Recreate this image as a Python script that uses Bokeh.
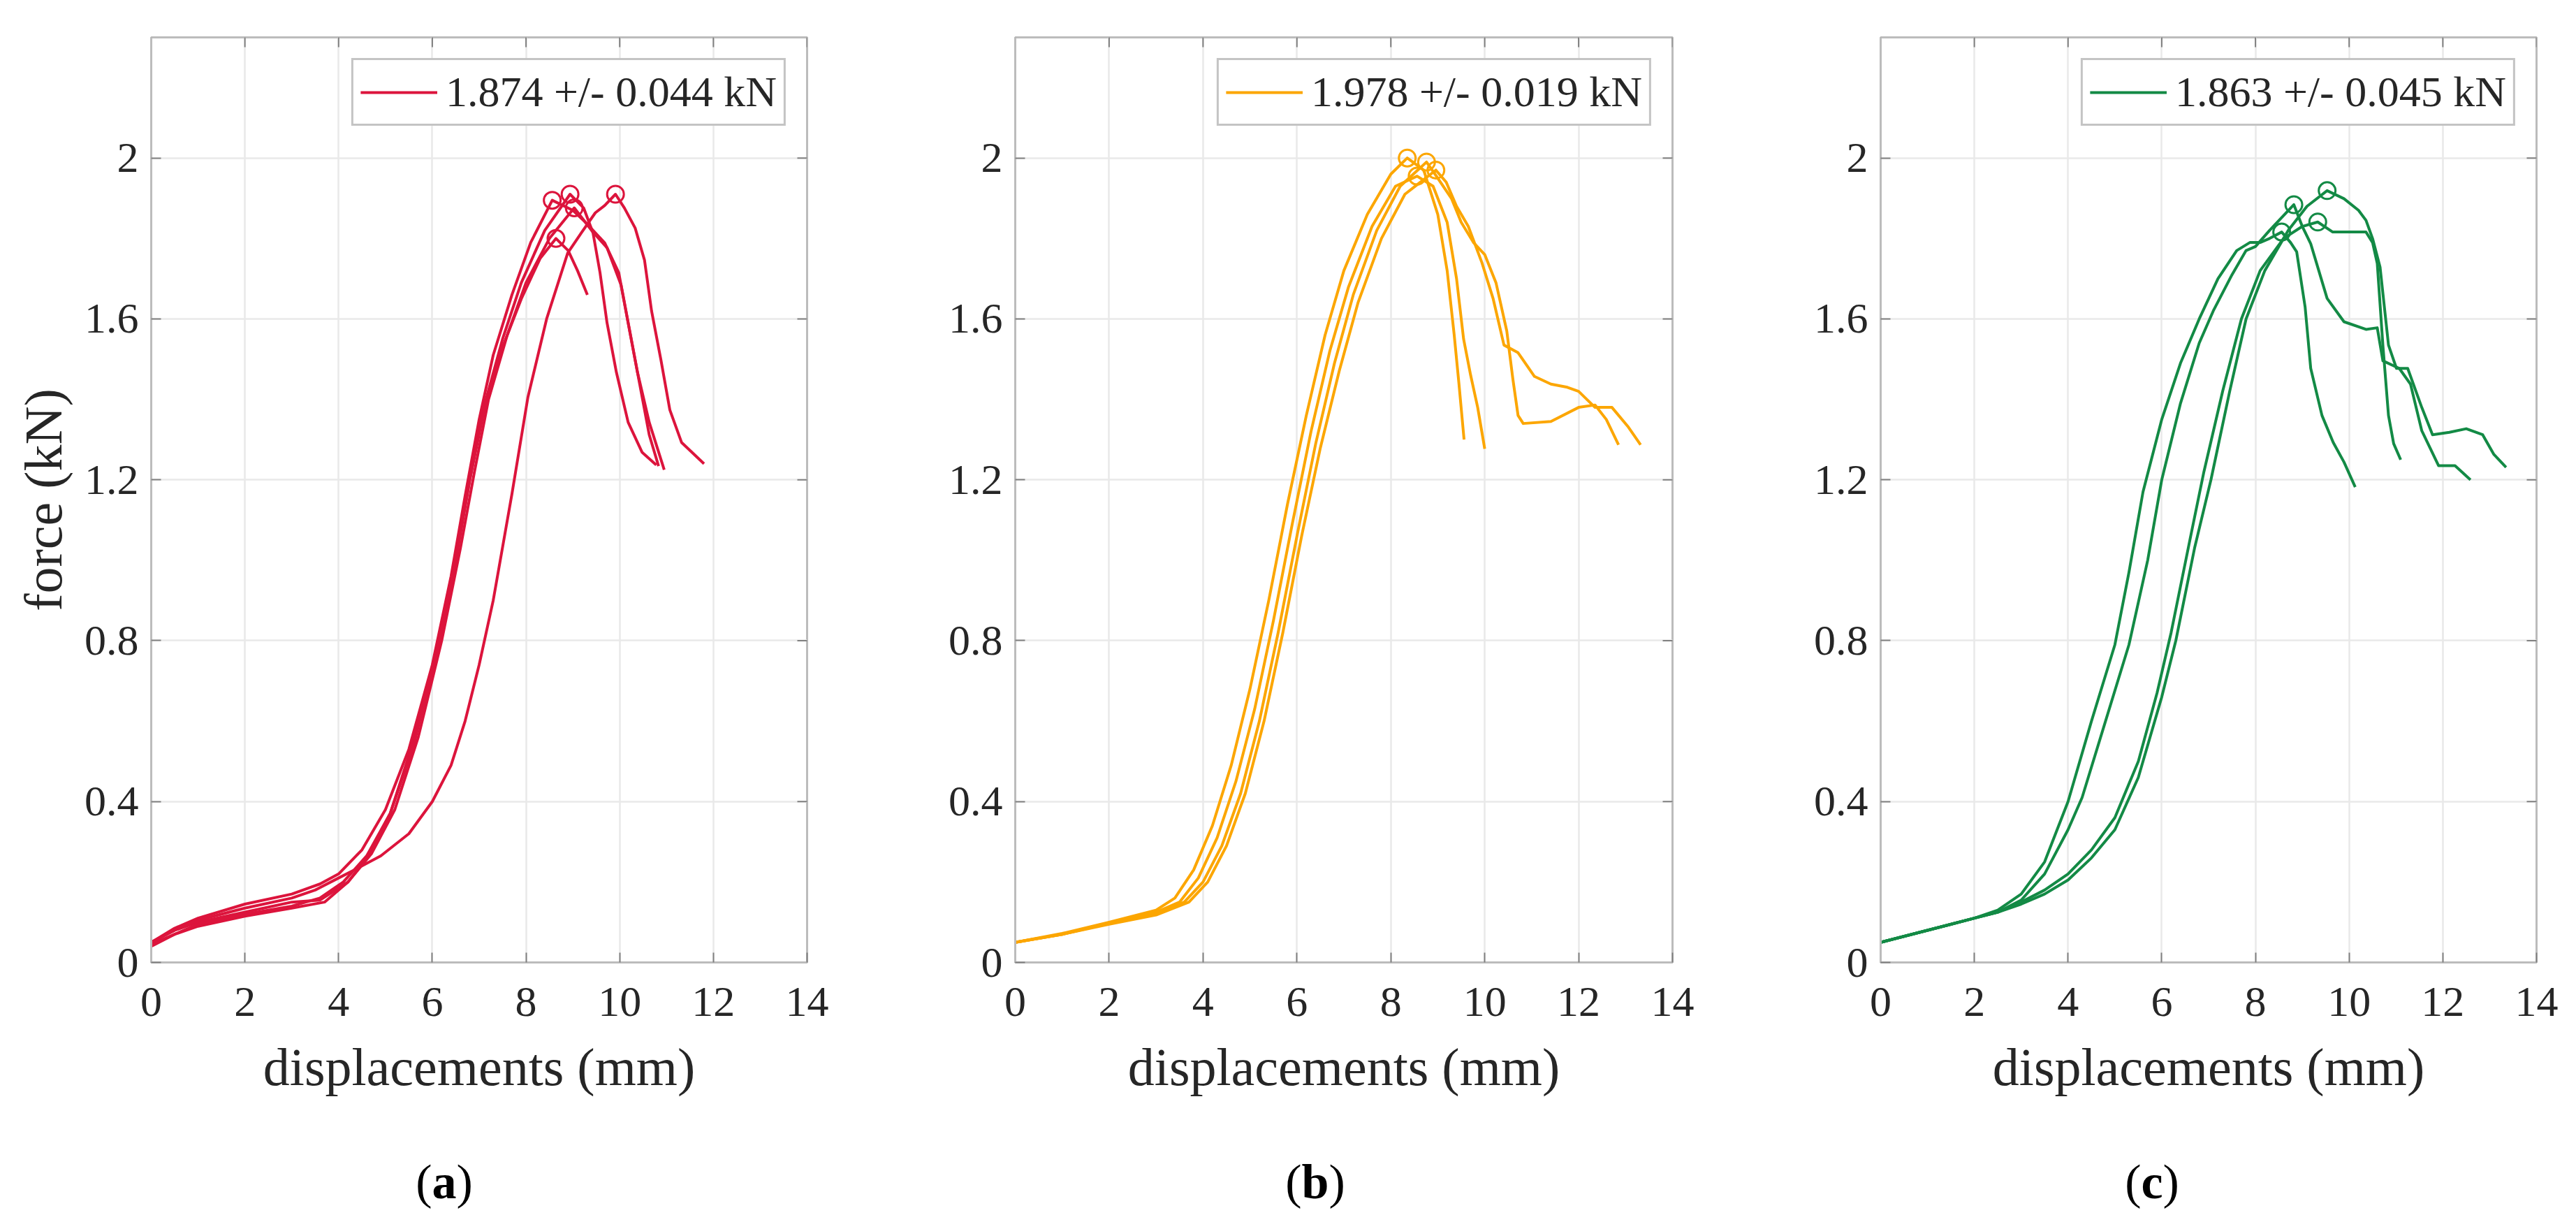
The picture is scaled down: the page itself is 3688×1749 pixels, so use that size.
import math
from bokeh.plotting import figure
from bokeh.layouts import row, column
from bokeh.models import Range1d, FixedTicker, Legend, LegendItem, Div
from bokeh.embed import file_html
from bokeh.resources import INLINE

# ---------------- data ----------------
x_ticks = [0, 2, 4, 6, 8, 10, 12, 14]
x_tick_labels = ["0", "2", "4", "6", "8", "10", "12", "14"]
y_ticks = [0, 0.4, 0.8, 1.2, 1.6, 2.0]
y_tick_labels = ["0", "0.4", "0.8", "1.2", "1.6", "2"]
x_max = 14
y_max = 2.3

x_label = "displacements (mm)"
y_label = "force (kN)"

# panel (a)
a1_x = [0, 0.5, 1, 2, 3, 3.6, 4, 4.5, 5, 5.5, 6, 6.4, 6.7, 7, 7.3, 7.7, 8.1, 8.56, 9.0, 9.28, 9.68, 9.98, 10.18, 10.38, 10.63, 10.95]
a1_y = [.05, .085, .11, .145, .17, .195, .22, .28, .38, .53, .74, .96, 1.16, 1.35, 1.51, 1.66, 1.79, 1.895, 1.87, 1.839, 1.789, 1.715, 1.59, 1.467, 1.343, 1.225]
a2_x = [0, 0.5, 1, 2, 3, 3.7, 4.2, 4.6, 5.1, 5.6, 6.1, 6.5, 6.8, 7.1, 7.5, 7.9, 8.4, 8.94, 9.23, 9.43, 9.58, 9.73, 9.93, 10.18, 10.48, 10.78]
a2_y = [.045, .07, .09, .115, .135, .15, .2, .26, .37, .55, .78, 1.0, 1.2, 1.38, 1.55, 1.69, 1.82, 1.91, 1.876, 1.814, 1.715, 1.59, 1.467, 1.343, 1.268, 1.237]
a3_x = [0, 0.5, 1, 2, 3, 3.6, 4.2, 4.7, 5.2, 5.7, 6.2, 6.6, 6.9, 7.2, 7.6, 8.0, 8.5, 9.03, 9.4, 9.73, 10.03, 10.23, 10.43, 10.63, 10.83]
a3_y = [.05, .08, .1, .125, .15, .155, .2, .27, .38, .56, .8, 1.03, 1.22, 1.4, 1.56, 1.69, 1.8, 1.876, 1.82, 1.777, 1.684, 1.56, 1.436, 1.312, 1.234]
a4_x = [0, 0.5, 1, 2, 3, 3.6, 4.1, 4.6, 5.1, 5.6, 6.1, 6.5, 6.8, 7.1, 7.5, 7.9, 8.3, 8.64, 8.9, 9.1, 9.31]
a4_y = [.04, .07, .095, .12, .14, .16, .2, .265, .37, .54, .77, 1.0, 1.2, 1.37, 1.53, 1.65, 1.75, 1.80, 1.77, 1.72, 1.66]
a5_x = [0, 0.5, 1, 2, 3, 3.5, 4, 4.5, 4.9, 5.5, 6.0, 6.4, 6.7, 7.0, 7.3, 7.7, 8.04, 8.44, 8.89, 9.18, 9.48, 9.68, 9.91, 10.1, 10.33, 10.53, 10.68, 10.88, 11.07, 11.32, 11.8]
a5_y = [.05, .08, .105, .135, .16, .18, .21, .24, .265, .32, .40, .49, .6, .74, .9, 1.165, 1.405, 1.6, 1.764, 1.814, 1.864, 1.882, 1.91, 1.876, 1.826, 1.746, 1.62, 1.498, 1.374, 1.293, 1.24]

# panel (b)
b1_x = [0, 1, 2, 3, 3.4, 3.8, 4.2, 4.6, 5.0, 5.4, 5.8, 6.2, 6.6, 7.0, 7.5, 8.0, 8.35, 8.7, 9.0, 9.2, 9.35, 9.45, 9.56]
b1_y = [.05, .072, .1, .13, .16, .23, .34, .49, .68, .9, 1.14, 1.36, 1.56, 1.72, 1.86, 1.96, 2.0, 1.97, 1.86, 1.72, 1.56, 1.44, 1.30]
b2_x = [0, 1, 2, 3, 3.5, 3.9, 4.3, 4.7, 5.1, 5.5, 5.9, 6.3, 6.7, 7.1, 7.6, 8.1, 8.56, 8.9, 9.2, 9.4, 9.55, 9.7, 9.85, 10.0]
b2_y = [.05, .07, .098, .125, .15, .21, .31, .45, .63, .85, 1.09, 1.32, 1.52, 1.68, 1.83, 1.93, 1.955, 1.93, 1.84, 1.70, 1.55, 1.46, 1.38, 1.277]
b3_x = [0, 1, 2, 3, 3.6, 4.0, 4.4, 4.8, 5.2, 5.6, 6.0, 6.4, 6.8, 7.2, 7.7, 8.2, 8.76, 9.0, 9.29, 9.5, 9.76, 10.0, 10.24, 10.47, 10.6, 10.71, 10.82, 11.41, 12.0, 12.35, 12.59, 12.85]
b3_y = [.05, .07, .097, .12, .15, .2, .29, .42, .6, .82, 1.06, 1.29, 1.49, 1.66, 1.82, 1.93, 1.99, 1.95, 1.90, 1.84, 1.79, 1.76, 1.69, 1.57, 1.45, 1.36, 1.34, 1.345, 1.38, 1.386, 1.35, 1.287]
b4_x = [0, 1, 2, 3, 3.7, 4.1, 4.5, 4.9, 5.3, 5.7, 6.1, 6.5, 6.9, 7.3, 7.8, 8.3, 8.96, 9.18, 9.4, 9.65, 9.94, 10.18, 10.41, 10.71, 11.06, 11.41, 11.76, 12.0, 12.35, 12.71, 13.06, 13.32]
b4_y = [.05, .07, .095, .118, .15, .2, .29, .42, .6, .82, 1.06, 1.28, 1.47, 1.64, 1.8, 1.91, 1.97, 1.94, 1.88, 1.83, 1.74, 1.65, 1.535, 1.516, 1.457, 1.438, 1.43, 1.42, 1.38, 1.38, 1.331, 1.287]

# panel (c)
c1_x = [0, 1, 2, 2.5, 3, 3.5, 4.0, 4.5, 5.0, 5.3, 5.6, 6.0, 6.4, 6.8, 7.2, 7.6, 7.88, 8.1, 8.3, 8.56, 8.75, 8.88, 9.06, 9.18, 9.42, 9.66, 9.89, 10.13]
c1_y = [.05, .08, .11, .13, .17, .25, .4, .6, .79, .97, 1.17, 1.35, 1.49, 1.6, 1.7, 1.77, 1.79, 1.79, 1.80, 1.816, 1.79, 1.767, 1.63, 1.477, 1.36, 1.293, 1.244, 1.182]
c2_x = [0, 1, 2, 2.5, 3, 3.5, 4.0, 4.3, 4.8, 5.3, 5.7, 6.0, 6.4, 6.8, 7.1, 7.5, 7.8, 8.0, 8.3, 8.82, 9.0, 9.18, 9.53, 9.89, 10.36, 10.6, 10.72, 11.07, 11.31, 11.55, 11.91, 12.26, 12.59]
c2_y = [.05, .08, .11, .125, .155, .22, .33, .41, .6, .79, 1.0, 1.2, 1.39, 1.54, 1.62, 1.71, 1.77, 1.78, 1.82, 1.884, 1.83, 1.787, 1.651, 1.593, 1.574, 1.578, 1.496, 1.477, 1.438, 1.322, 1.235, 1.235, 1.20]
c3_x = [0, 1, 2, 2.5, 3, 3.5, 4.0, 4.5, 5.0, 5.5, 5.9, 6.2, 6.6, 6.9, 7.3, 7.7, 8.1, 8.6, 9.0, 9.33, 9.65, 10.36, 10.5, 10.6, 10.72, 10.84, 10.95, 11.1]
c3_y = [.05, .08, .11, .125, .15, .18, .22, .28, .36, .5, .67, .82, 1.05, 1.22, 1.42, 1.6, 1.72, 1.8, 1.83, 1.841, 1.816, 1.816, 1.79, 1.738, 1.535, 1.36, 1.29, 1.25]
c4_x = [0, 1, 2, 2.5, 3, 3.5, 4.0, 4.5, 5.0, 5.5, 6.0, 6.3, 6.7, 7.05, 7.45, 7.8, 8.2, 8.7, 9.1, 9.53, 9.89, 10.2, 10.36, 10.5, 10.66, 10.84, 11.01, 11.25, 11.55, 11.78, 12.14, 12.5, 12.85, 13.09, 13.35]
c4_y = [.05, .08, .11, .125, .145, .17, .205, .26, .33, .46, .66, .8, 1.03, 1.2, 1.42, 1.6, 1.72, 1.82, 1.88, 1.919, 1.899, 1.87, 1.845, 1.8, 1.729, 1.535, 1.477, 1.477, 1.38, 1.312, 1.318, 1.327, 1.312, 1.263, 1.231]

legend_labels = ["1.874 +/- 0.044 kN", "1.978 +/- 0.019 kN", "1.863 +/- 0.045 kN"]
captions = ["a", "b", "c"]
colors = ["#DC143C", "#FCA600", "#138A45"]

panels = [
    [(a1_x, a1_y), (a2_x, a2_y), (a3_x, a3_y), (a4_x, a4_y), (a5_x, a5_y)],
    [(b1_x, b1_y), (b2_x, b2_y), (b3_x, b3_y), (b4_x, b4_y)],
    [(c1_x, c1_y), (c2_x, c2_y), (c3_x, c3_y), (c4_x, c4_y)],
]

# ---------------- styling ----------------
FONT = "Liberation Serif"
TEXT = "#262626"
BOX = "#bcbcbc"
TICK = "#808080"
TICK_FS = "62px"
LABEL_FS = "76px"
TICK_LEN = 14

# layout geometry (per panel): width, border left, border right, caption centre offset from frame left
geom = [
    (1304, 216, 149, 420),
    (1238, 149, 148, 430),
    (1130, 150, 41, 389),
]
FIG_HEIGHT = 1647
BORDER_TOP = 53
FRAME_H = 1324
CAP_HEIGHT = 90


def style_axis(ax, ticks, labels, standoff):
    ax.ticker = FixedTicker(ticks=ticks)
    ax.major_label_overrides = dict(zip(ticks, labels))
    ax.major_tick_in = TICK_LEN
    ax.major_tick_out = 0
    ax.minor_tick_in = 0
    ax.minor_tick_out = 0
    ax.major_tick_line_color = TICK
    ax.major_tick_line_width = 2
    ax.axis_line_color = BOX
    ax.axis_line_width = 3
    ax.major_label_text_font = FONT
    ax.major_label_text_color = TEXT
    ax.major_label_text_font_size = TICK_FS
    ax.major_label_standoff = standoff
    ax.axis_label_text_font = FONT
    ax.axis_label_text_font_size = LABEL_FS
    ax.axis_label_text_font_style = "normal"
    ax.axis_label_text_color = TEXT


cols = []
for i, curves in enumerate(panels):
    w, bl, br, cap_off = geom[i]
    p = figure(width=w, height=FIG_HEIGHT, output_backend="svg", toolbar_location=None,
               x_range=Range1d(0, x_max), y_range=Range1d(0, y_max),
               min_border_left=bl, min_border_right=br,
               min_border_top=BORDER_TOP, min_border_bottom=FIG_HEIGHT - BORDER_TOP - FRAME_H)
    p.background_fill_color = "white"
    p.border_fill_color = "white"
    p.outline_line_color = BOX
    p.outline_line_width = 3

    xax = p.xaxis[0]
    yax = p.yaxis[0]
    style_axis(xax, x_ticks, x_tick_labels, 36)
    style_axis(yax, y_ticks, y_tick_labels, 18)
    xax.axis_label = x_label
    xax.axis_label_standoff = 28
    if i == 0:
        yax.axis_label = y_label
        yax.axis_label_standoff = 14

    p.xgrid.ticker = FixedTicker(ticks=x_ticks)
    p.ygrid.ticker = FixedTicker(ticks=y_ticks)
    p.grid.grid_line_color = "#e9e9e9"
    p.grid.grid_line_width = 2.5

    # inward ticks on the top and right edges of the box (half of each dash is clipped by the frame)
    p.scatter(x_ticks, [y_max] * len(x_ticks), marker="dash", angle=math.pi / 2,
              size=2 * TICK_LEN, line_color=TICK, line_width=2)
    p.scatter([x_max] * len(y_ticks), y_ticks, marker="dash",
              size=2 * TICK_LEN, line_color=TICK, line_width=2)

    color = colors[i]
    renderers = []
    for (xs, ys) in curves:
        r = p.line(xs, ys, line_color=color, line_width=4, line_join="round")
        renderers.append(r)
    # peak markers (maximum of each curve)
    px, py = [], []
    for (xs, ys) in curves:
        k = ys.index(max(ys))
        px.append(xs[k])
        py.append(ys[k])
    p.scatter(px, py, marker="circle", size=24, fill_color=None,
              line_color=color, line_width=3)

    legend = Legend(items=[LegendItem(label=legend_labels[i], renderers=[renderers[0]])],
                    location="top_right", margin=30, padding=10, spacing=0,
                    glyph_width=110, glyph_height=60, label_height=60,
                    label_standoff=12,
                    label_text_font=FONT, label_text_font_size="62px",
                    label_text_color=TEXT,
                    border_line_color="#8a8a8a", border_line_width=3,
                    background_fill_color="white", background_fill_alpha=1.0)
    p.add_layout(legend)

    cap = Div(text="(<b>%s</b>)" % captions[i], width=2 * (bl + cap_off), height=CAP_HEIGHT,
              margin=(0, 0, 0, 0),
              styles={"font-family": FONT, "font-size": "70px", "color": "black",
                      "text-align": "center", "line-height": "%dpx" % CAP_HEIGHT})
    cols.append(column(p, cap, spacing=0))

layout = row(*cols, spacing=0)
open("out.html", "w").write(file_html(layout, INLINE))
